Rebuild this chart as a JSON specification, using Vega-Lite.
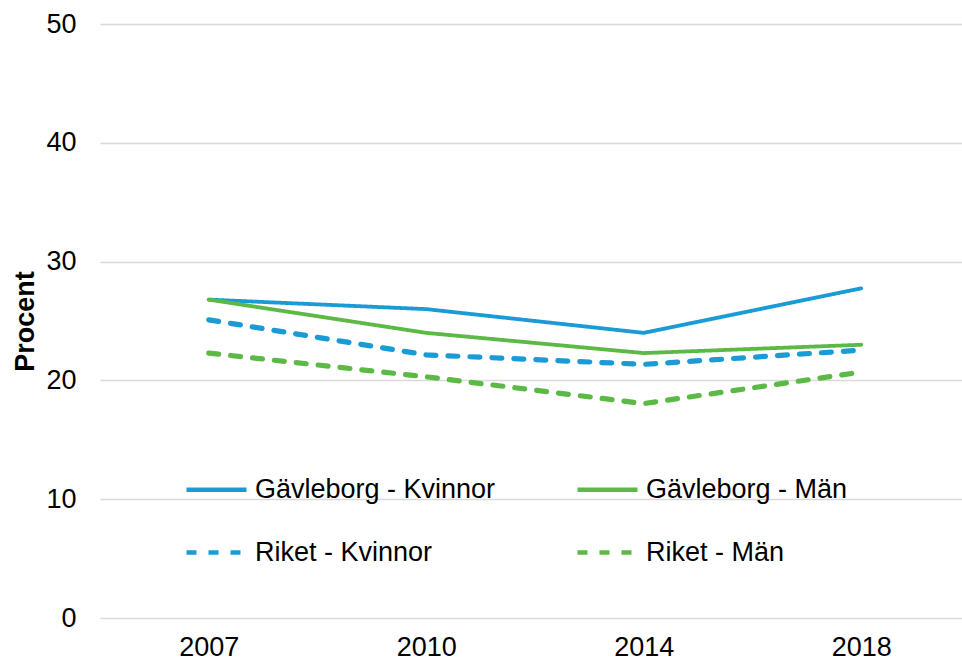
{
  "$schema": "https://vega.github.io/schema/vega-lite/v6.json",
  "autosize": "none",
  "width": 870,
  "height": 594,
  "padding": {"left": 100, "top": 24, "right": 0, "bottom": 46},
  "background": "white",
  "config": {
    "view": {"stroke": null},
    "font": "Liberation Sans",
    "axis": {"labelFont": "Liberation Sans", "titleFont": "Liberation Sans"},
    "legend": {"labelFont": "Liberation Sans"}
  },
  "data": {
    "values": [
      {"ar": "2007", "region": "Gävleborg", "serie": "Gävleborg - Kvinnor", "procent": 26.8},
      {"ar": "2010", "region": "Gävleborg", "serie": "Gävleborg - Kvinnor", "procent": 26.0},
      {"ar": "2014", "region": "Gävleborg", "serie": "Gävleborg - Kvinnor", "procent": 24.0},
      {"ar": "2018", "region": "Gävleborg", "serie": "Gävleborg - Kvinnor", "procent": 27.75},
      {"ar": "2007", "region": "Gävleborg", "serie": "Gävleborg - Män", "procent": 26.8},
      {"ar": "2010", "region": "Gävleborg", "serie": "Gävleborg - Män", "procent": 24.0},
      {"ar": "2014", "region": "Gävleborg", "serie": "Gävleborg - Män", "procent": 22.3},
      {"ar": "2018", "region": "Gävleborg", "serie": "Gävleborg - Män", "procent": 23.0},
      {"ar": "2007", "region": "Riket", "serie": "Riket - Kvinnor", "procent": 25.1},
      {"ar": "2010", "region": "Riket", "serie": "Riket - Kvinnor", "procent": 22.15},
      {"ar": "2014", "region": "Riket", "serie": "Riket - Kvinnor", "procent": 21.35},
      {"ar": "2018", "region": "Riket", "serie": "Riket - Kvinnor", "procent": 22.55},
      {"ar": "2007", "region": "Riket", "serie": "Riket - Män", "procent": 22.3},
      {"ar": "2010", "region": "Riket", "serie": "Riket - Män", "procent": 20.3},
      {"ar": "2014", "region": "Riket", "serie": "Riket - Män", "procent": 18.05},
      {"ar": "2018", "region": "Riket", "serie": "Riket - Män", "procent": 20.7}
    ]
  },
  "encoding": {
    "x": {
      "field": "ar", "type": "ordinal",
      "scale": {"type": "point", "padding": 0.5},
      "axis": {"title": null, "labelAngle": 0, "labelFontSize": 27, "labelColor": "#000000",
               "labelPadding": 16, "domain": false, "ticks": false, "grid": false}
    },
    "y": {
      "field": "procent", "type": "quantitative",
      "scale": {"domain": [0, 50]},
      "axis": {"title": "Procent", "titleFontSize": 27, "titleFontWeight": "bold", "titleColor": "#000000",
               "titleX": -75, "titleBaseline": "middle", "titleAngle": -90,
               "values": [0, 10, 20, 30, 40, 50], "labelFontSize": 27, "labelColor": "#000000",
               "labelPadding": 24, "domain": false, "ticks": false,
               "gridColor": "#d9d9d9", "gridWidth": 1.3}
    },
    "color": {
      "field": "serie", "type": "nominal",
      "scale": {"domain": ["Gävleborg - Kvinnor", "Gävleborg - Män", "Riket - Kvinnor", "Riket - Män"],
                "range": ["#1a9bd6", "#5cb946", "#1a9bd6", "#5cb946"]},
      "legend": {"title": null, "orient": "none", "legendX": 84, "legendY": 433, "columns": 2, "direction": "horizontal",
                 "symbolType": "stroke", "symbolSize": 3600, "symbolStrokeWidth": 4.5,
                 "labelFontSize": 27, "labelColor": "#000000", "labelOffset": 6, "labelLimit": 400,
                 "columnPadding": 72, "rowPadding": 17}
    },
    "strokeDash": {
      "field": "serie", "type": "nominal",
      "scale": {"domain": ["Gävleborg - Kvinnor", "Gävleborg - Män", "Riket - Kvinnor", "Riket - Män"],
                "range": [[1, 0], [1, 0], [10, 12], [10, 12]]},
      "legend": {"title": null, "orient": "none", "legendX": 84, "legendY": 433, "columns": 2, "direction": "horizontal",
                 "symbolType": "stroke", "symbolSize": 3600, "symbolStrokeWidth": 4.5,
                 "labelFontSize": 27, "labelColor": "#000000", "labelOffset": 6, "labelLimit": 400,
                 "columnPadding": 72, "rowPadding": 17}
    }
  },
  "layer": [
    {
      "transform": [{"filter": "datum.region === 'Gävleborg'"}],
      "mark": {"type": "line", "strokeWidth": 3.8, "strokeCap": "round"}
    },
    {
      "transform": [{"filter": "datum.region === 'Riket'"}],
      "mark": {"type": "line", "strokeWidth": 5.2, "strokeCap": "round"}
    }
  ]
}
